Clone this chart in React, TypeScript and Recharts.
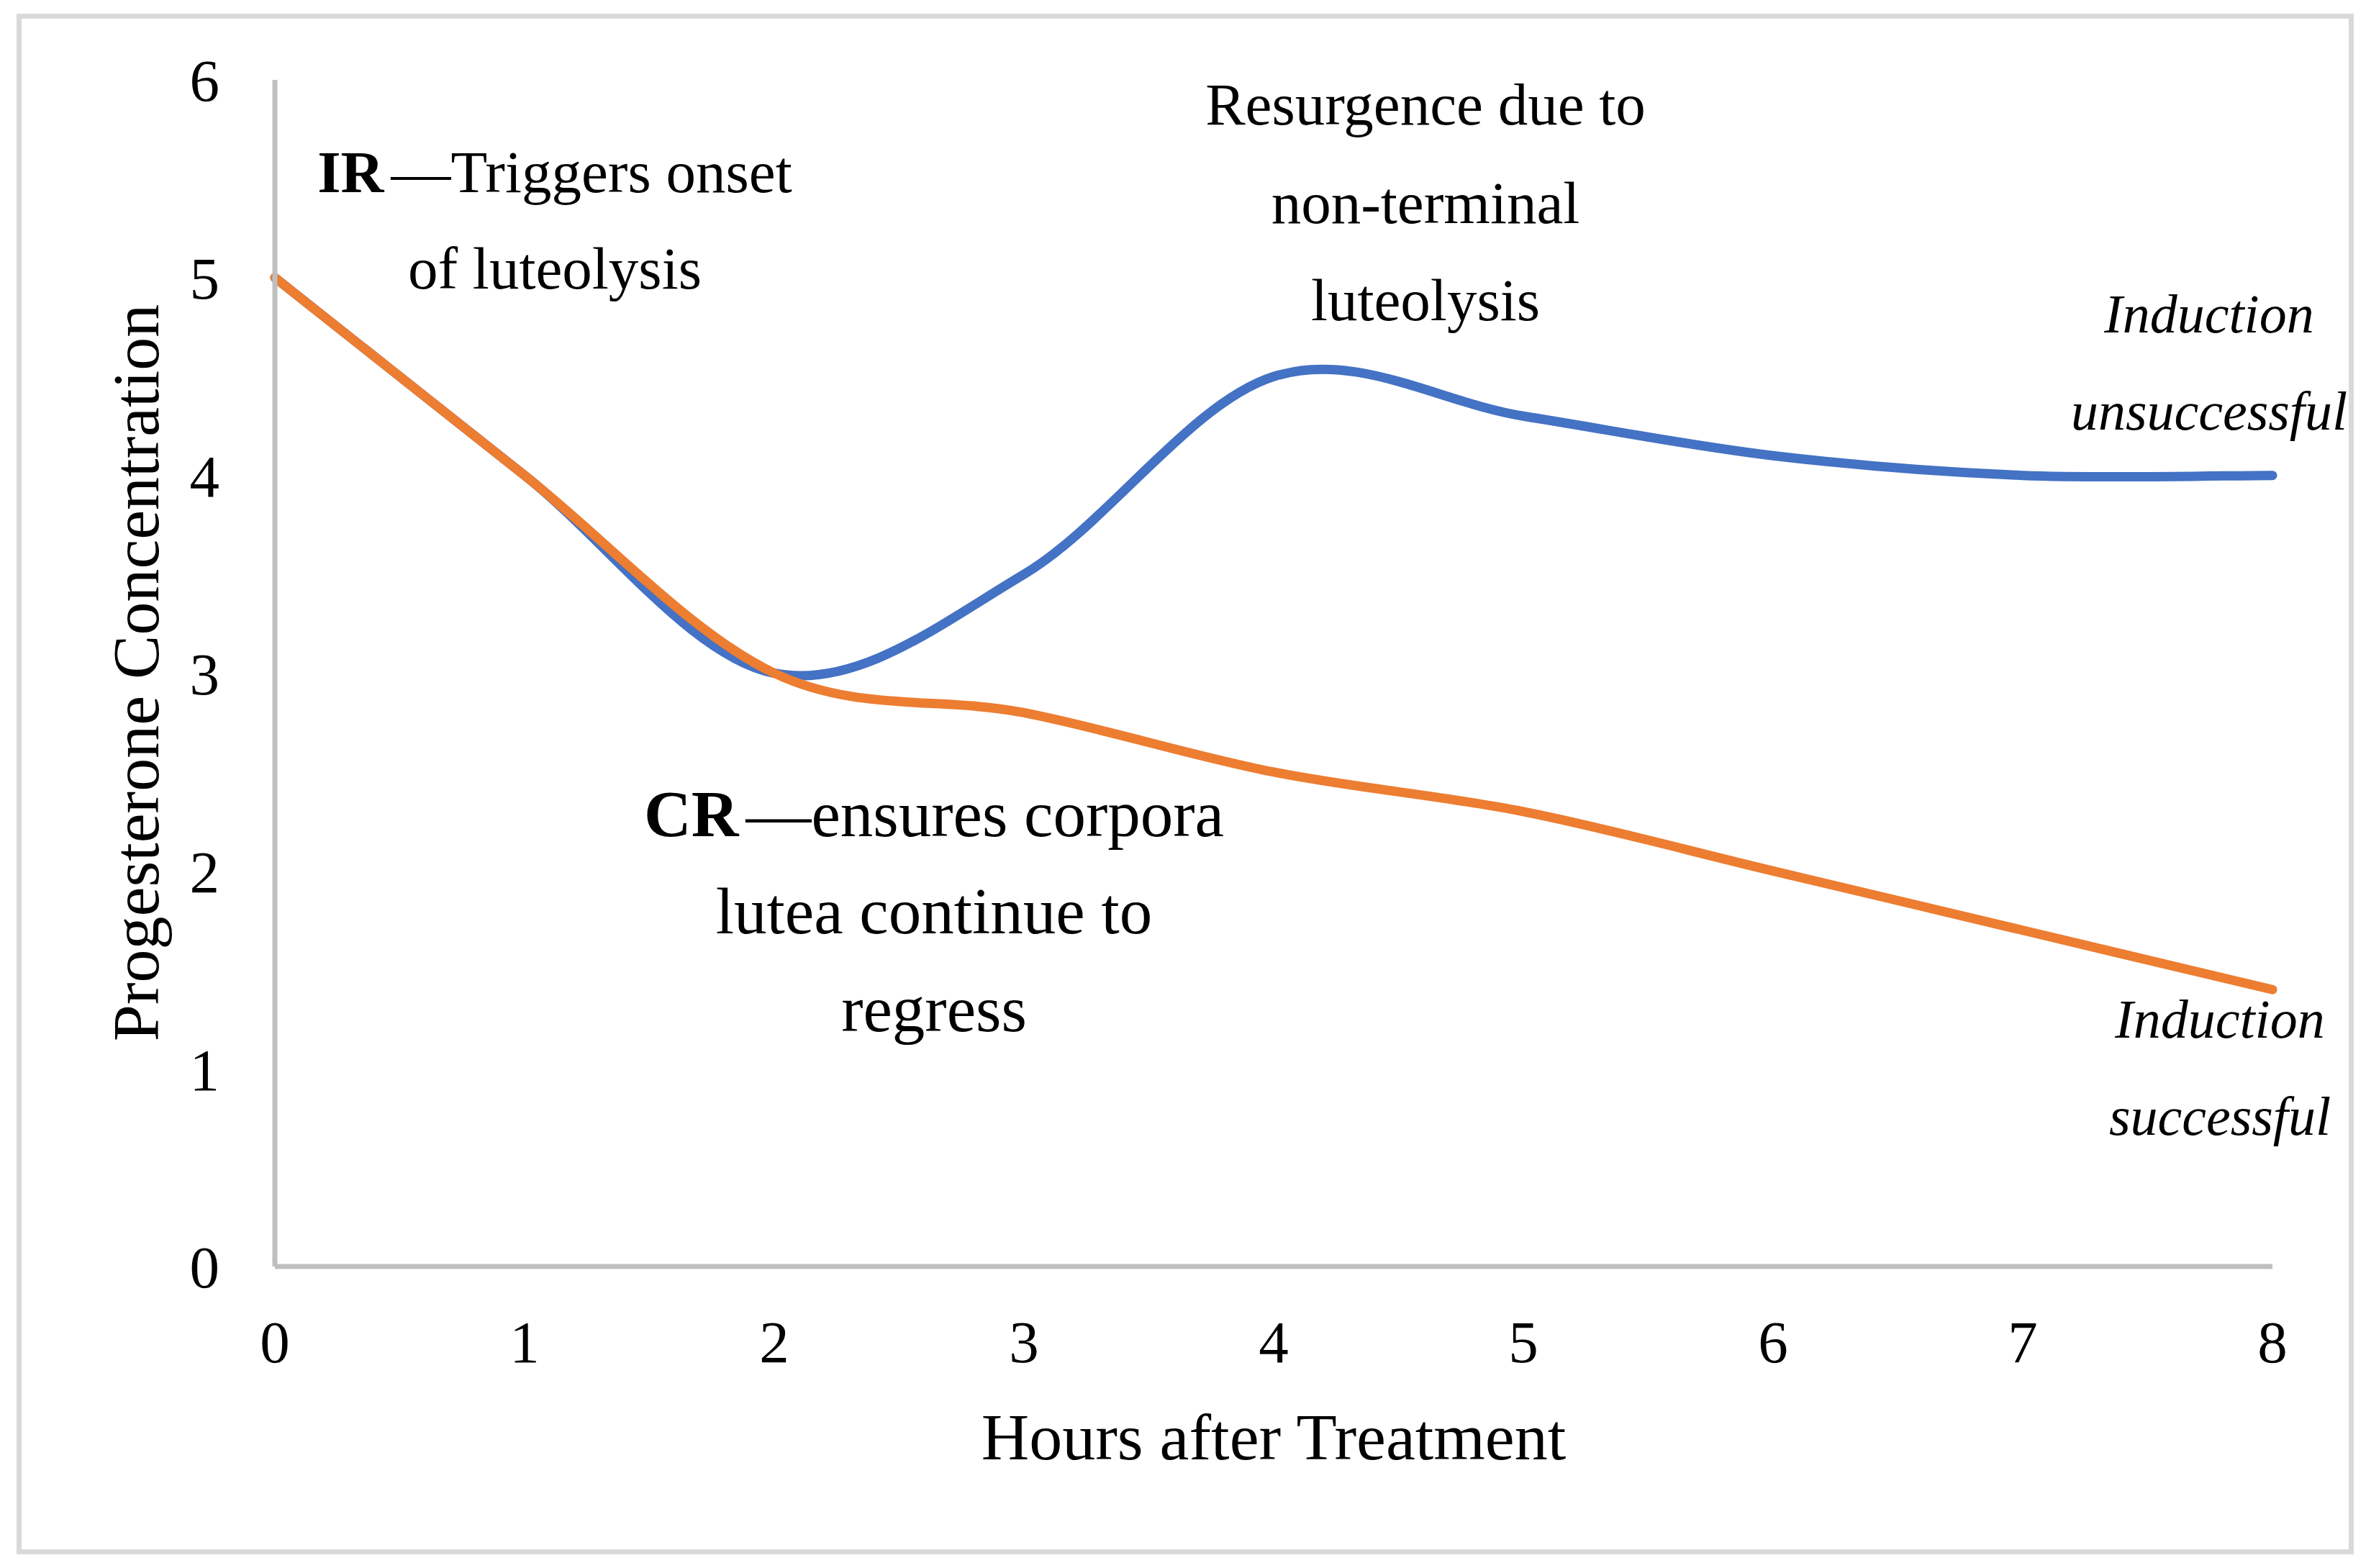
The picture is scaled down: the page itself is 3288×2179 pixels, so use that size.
import { Label, Line, LineChart, XAxis, YAxis } from "recharts";

// hours after treatment
const hours = [0, 1, 2, 3, 4, 5, 6, 7, 8];
// progesterone, induction unsuccessful (blue) / successful (orange)
const unsuccessful = [5, 4, 3, 3.5, 4.5, 4.3, 4.1, 4.0, 4.0];
const successful = [5, 4, 3, 2.8, 2.5, 2.3, 2.0, 1.7, 1.4];
const yTicks = [0, 1, 2, 3, 4, 5, 6];

const data = hours.map((h, i) => ({ h, unsuccessful: unsuccessful[i], successful: successful[i] }));

const font = "'Liberation Serif', 'Times New Roman', serif";

// Excel-style smoothing (Catmull-Rom through the points)
function excelSmooth(context: any) {
  let pts: [number, number][] = [];
  return {
    areaStart() {},
    areaEnd() {},
    lineStart() {
      pts = [];
    },
    point(x: number, y: number) {
      pts.push([+x, +y]);
    },
    lineEnd() {
      if (!pts.length) return;
      context.moveTo(pts[0][0], pts[0][1]);
      for (let i = 0; i < pts.length - 1; i++) {
        const p0 = pts[i - 1] || pts[i];
        const p1 = pts[i];
        const p2 = pts[i + 1];
        const p3 = pts[i + 2] || p2;
        context.bezierCurveTo(
          p1[0] + (p2[0] - p0[0]) / 6,
          p1[1] + (p2[1] - p0[1]) / 6,
          p2[0] - (p3[0] - p1[0]) / 6,
          p2[1] - (p3[1] - p1[1]) / 6,
          p2[0],
          p2[1]
        );
      }
    },
  };
}

type Note = { x: number; y: number; bold?: string; text: string; italic?: boolean; size: number };

const notes: Note[] = [
  { x: 771, y: 267, bold: "IR", text: "—Triggers onset", size: 83 },
  { x: 771, y: 401, text: "of luteolysis", size: 83 },
  { x: 1981, y: 173, text: "Resurgence due to", size: 83 },
  { x: 1981, y: 310, text: "non-terminal", size: 83 },
  { x: 1981, y: 445, text: "luteolysis", size: 83 },
  { x: 3070, y: 462, text: "Induction", italic: true, size: 76 },
  { x: 3070, y: 597, text: "unsuccessful", italic: true, size: 76 },
  { x: 1298, y: 1162, bold: "CR", text: "—ensures corpora", size: 91 },
  { x: 1298, y: 1297, text: "lutea continue to", size: 91 },
  { x: 1298, y: 1433, text: "regress", size: 91 },
  { x: 3085, y: 1442, text: "Induction", italic: true, size: 76 },
  { x: 3085, y: 1577, text: "successful", italic: true, size: 76 },
];

export default function App() {
  return (
    <div style={{ position: "absolute", left: 0, top: 0, width: 3288, height: 2179, background: "#fff" }}>
      <div
        style={{
          position: "absolute",
          left: 23,
          top: 19,
          width: 3248,
          height: 2141,
          border: "7px solid #d9d9d9",
          boxSizing: "border-box",
        }}
      />
      <div style={{ position: "absolute", left: 0, top: 0 }}>
        <LineChart width={3288} height={2179} data={data} margin={{ top: 111, right: 130, bottom: 269, left: 0 }}>
          <XAxis
            dataKey="h"
            type="number"
            domain={[0, 8]}
            ticks={hours}
            height={150}
            tickSize={0}
            tickMargin={74}
            axisLine={{ stroke: "#bfbfbf", strokeWidth: 7 }}
            tickLine={false}
            tick={{ fill: "#000", fontSize: 83, fontFamily: font }}
          >
            <Label
              content={({ viewBox }: any) => (
                <text x={viewBox.x + viewBox.width / 2} y={2028} textAnchor="middle" fontSize={92} fontFamily={font} fill="#000">
                  Hours after Treatment
                </text>
              )}
            />
          </XAxis>
          <YAxis
            type="number"
            domain={[0, 6]}
            ticks={yTicks}
            width={382}
            tickSize={0}
            tickMargin={77}
            axisLine={{ stroke: "#bfbfbf", strokeWidth: 7 }}
            tickLine={false}
            tick={{ fill: "#000", fontSize: 83, fontFamily: font }}
          >
            <Label
              content={() => (
                <text x={220} y={935} transform="rotate(-90 220 935)" textAnchor="middle" fontSize={92} fontFamily={font} fill="#000">
                  Progesterone Concentration
                </text>
              )}
            />
          </YAxis>
          <Line
            dataKey="unsuccessful"
            type={excelSmooth as any}
            stroke="#4472c4"
            strokeWidth={13}
            strokeLinecap="round"
            dot={false}
            activeDot={false}
            isAnimationActive={false}
          />
          <Line
            dataKey="successful"
            type={excelSmooth as any}
            stroke="#ed7d31"
            strokeWidth={13}
            strokeLinecap="round"
            dot={false}
            activeDot={false}
            isAnimationActive={false}
          />
        </LineChart>
      </div>
      <svg width={3288} height={2179} style={{ position: "absolute", left: 0, top: 0, pointerEvents: "none" }}>
        {notes.map((n, i) => (
          <text
            key={i}
            x={n.x}
            y={n.y}
            textAnchor="middle"
            fontFamily={font}
            fontSize={n.size}
            fontStyle={n.italic ? "italic" : "normal"}
            fill="#000"
          >
            {n.bold && <tspan fontWeight="bold">{n.bold}</tspan>}
            {n.bold ? <tspan dx={10}>{n.text}</tspan> : n.text}
          </text>
        ))}
      </svg>
    </div>
  );
}
